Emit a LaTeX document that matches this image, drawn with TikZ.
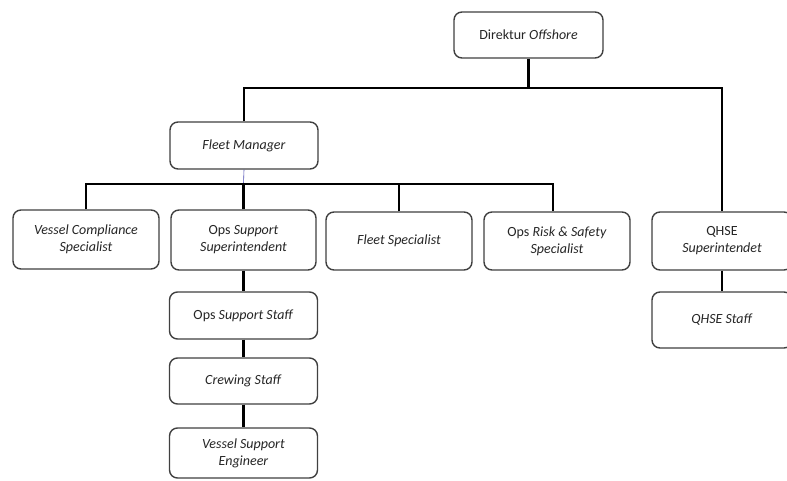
\documentclass[tikz,border=0pt]{standalone}
\usepackage{fontspec}
\setmainfont{Carlito}
\begin{document}
\begin{tikzpicture}[x=1pt,y=-1pt,
  box/.style={draw=black!75, line width=1.4pt, rounded corners=8pt, fill=white,
    text=black!85, align=center, inner sep=0pt,
    font=\fontsize{14}{17}\selectfont},
  link/.style={line width=2.2pt, black},
  thinlink/.style={line width=0.6pt, blue!40!gray}]
\useasboundingbox (0,0) rectangle (787,481);
\node[box, minimum width=149pt, minimum height=46pt] (top) at (528.5,35) {Direktur \textit{Offshore}};
\node[box, minimum width=148pt, minimum height=47pt] (fm) at (244,145.5) {\textit{Fleet Manager}};
\node[box, minimum width=146pt, minimum height=59pt] (vc) at (86,239.5) {\textit{Vessel Compliance}\\\textit{Specialist}};
\node[box, minimum width=145pt, minimum height=60pt] (oss) at (243.5,240) {Ops \textit{Support}\\\textit{Superintendent}};
\node[box, minimum width=146pt, minimum height=58pt] (fs) at (399,241) {\textit{Fleet Specialist}};
\node[box, minimum width=146pt, minimum height=58pt] (ors) at (557,241) {Ops \textit{Risk \& Safety}\\\textit{Specialist}};
\node[box, minimum width=140pt, minimum height=58pt] (qs) at (722,241) {QHSE\\\textit{Superintendet}};
\node[box, minimum width=140pt, minimum height=56pt] (qst) at (722,320) {\textit{QHSE Staff}};
\node[box, minimum width=148pt, minimum height=47pt] (oss2) at (243.5,315.5) {Ops \textit{Support Staff}};
\node[box, minimum width=148pt, minimum height=46pt] (cs) at (243.5,381) {\textit{Crewing Staff}};
\node[box, minimum width=148pt, minimum height=50pt] (vse) at (243.5,453) {\textit{Vessel Support}\\\textit{Engineer}};
\coordinate (bus1) at (528.5,88);
\coordinate (bus2) at (243.5,184);
\coordinate (orsdrop) at (553,211);
\draw[link] (top.south) -- (bus1);
\draw[link] (fm.north) |- (bus1) -| (qs.north);
\draw[thinlink] (fm.south) -- (bus2);
\draw[link] (vc.north) |- (bus2) -| (orsdrop);
\draw[link] (oss.north) -- (bus2);
\draw[link] (fs.north) -- (fs.north |- bus2);
\draw[link] (oss.south) -- (oss2.north);
\draw[link] (oss2.south) -- (cs.north);
\draw[link] (cs.south) -- (vse.north);
\draw[link] (qs.south) -- (qst.north);
\end{tikzpicture}
\end{document}
